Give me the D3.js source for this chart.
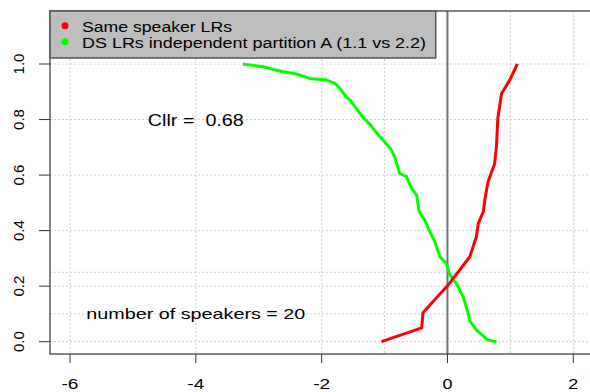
<!DOCTYPE html>
<html>
<head>
<meta charset="utf-8">
<script src="https://cdn.jsdelivr.net/npm/d3@7"></script>
<style>
  body { margin: 0; background: #fff; }
  text { font-family: "Liberation Sans", Arial, sans-serif; fill: #000; white-space: pre; }
</style>
</head>
<body>
<svg id="chart"></svg>
<script>
const width = 590;
const height = 392;

// same speaker LRs (log10) and cumulative proportion
const ssLR   = [-1.05, -0.41, -0.39, 0.01, 0.355, 0.46, 0.49, 0.57, 0.60, 0.645, 0.75, 0.78, 0.80, 0.86, 0.99, 1.11];
const ssProp = [0, 0.05, 0.104, 0.204, 0.306, 0.378, 0.426, 0.468, 0.52, 0.576, 0.642, 0.708, 0.804, 0.894, 0.942, 1.0];

// different speaker LRs, partition A
const dsLR   = [-3.25, -2.93, -2.67, -2.40, -2.19, -1.92, -1.79, -1.71, -1.61, -1.55, -1.45, -1.35, -1.22, -1.12, -1.0, -0.89, -0.84, -0.76, -0.65, -0.57, -0.49, -0.45, -0.36, -0.28, -0.20, -0.12, -0.02, 0.04, 0.14, 0.25, 0.33, 0.35, 0.46, 0.645, 0.78];
const dsProp = [1.0, 0.990, 0.975, 0.964, 0.948, 0.942, 0.930, 0.912, 0.882, 0.87, 0.840, 0.81, 0.78, 0.75, 0.72, 0.690, 0.666, 0.606, 0.594, 0.552, 0.528, 0.468, 0.438, 0.396, 0.360, 0.306, 0.282, 0.240, 0.210, 0.162, 0.102, 0.078, 0.042, 0.006, 0.0];

const xTicks = [-6, -4, -2, 0, 2];
const yTicks = [0, 0.2, 0.4, 0.6, 0.8, 1.0];
const vGrid = [-6, -4, -2, -1, 1, 2];
const hGrid = [0, 0.1, 0.2, 0.25, 0.4, 0.6, 0.8, 1.0];

const legendItems = [
  { label: "Same speaker LRs", color: "#ff0000", len: 150 },
  { label: "DS LRs independent partition A (1.1 vs 2.2)", color: "#00ff00", len: 344 }
];

const svg = d3.select("#chart").attr("width", width).attr("height", height);

const x = d3.scaleLinear().domain([-6, 2]).range([70, 573.3]);
const y = d3.scaleLinear().domain([0, 1]).range([341.7, 64]);
const box = { left: 50, right: x(2.32), top: 11, bottom: 354 };

// grid
svg.selectAll(".vgrid").data(vGrid).enter().append("line").attr("class", "vgrid")
  .attr("x1", d => x(d)).attr("x2", d => x(d)).attr("y1", box.top).attr("y2", box.bottom)
  .attr("stroke", "#cfcfcf").attr("stroke-dasharray", "2,2");
svg.selectAll(".hgrid").data(hGrid).enter().append("line").attr("class", "hgrid")
  .attr("x1", box.left).attr("x2", box.right).attr("y1", d => y(d)).attr("y2", d => y(d))
  .attr("stroke", "#cfcfcf").attr("stroke-dasharray", "2,2");

// zero line
svg.append("line").attr("x1", x(0)).attr("x2", x(0)).attr("y1", box.top).attr("y2", box.bottom)
  .attr("stroke", "#707070").attr("stroke-width", 2);

// curves
const line = d3.line().x(d => x(d[0])).y(d => y(d[1]));
svg.append("path").datum(dsLR.map((v, i) => [v, dsProp[i]])).attr("d", line)
  .attr("fill", "none").attr("stroke", "#00ff00").attr("stroke-width", 3).attr("stroke-linejoin", "round");
svg.append("path").datum(ssLR.map((v, i) => [v, ssProp[i]])).attr("d", line)
  .attr("fill", "none").attr("stroke", "#ff0000").attr("stroke-width", 3).attr("stroke-linejoin", "round");

// box
svg.append("rect").attr("x", box.left).attr("y", box.top)
  .attr("width", box.right - box.left).attr("height", box.bottom - box.top)
  .attr("fill", "none").attr("stroke", "#333").attr("stroke-width", 1.2);

// axes
const xAxis = svg.append("g").attr("transform", `translate(0,${box.bottom})`);
xAxis.selectAll("line").data(xTicks).enter().append("line")
  .attr("x1", d => x(d)).attr("x2", d => x(d)).attr("y1", 0).attr("y2", 9).attr("stroke", "#333");
xAxis.selectAll("text").data(xTicks).enter().append("text")
  .attr("x", d => x(d)).attr("y", 35).attr("text-anchor", "middle").style("font-size", "14px")
  .attr("textLength", d => d < 0 ? 17 : 10).attr("lengthAdjust", "spacingAndGlyphs")
  .text(d => d);

const yAxis = svg.append("g").attr("transform", `translate(${box.left},0)`);
yAxis.selectAll("line").data(yTicks).enter().append("line")
  .attr("x1", -11).attr("x2", 0).attr("y1", d => y(d)).attr("y2", d => y(d)).attr("stroke", "#333");
yAxis.selectAll("text").data(yTicks).enter().append("text")
  .attr("transform", d => `translate(-26,${y(d)}) rotate(-90)`)
  .attr("text-anchor", "middle").style("font-size", "15px")
  .text(d => d.toFixed(1));

// annotations
svg.append("text").attr("x", x(-4)).attr("y", y(0.8) + 6.5).attr("text-anchor", "middle")
  .style("font-size", "16px").attr("textLength", 96).attr("lengthAdjust", "spacingAndGlyphs")
  .text("Cllr =  0.68");
svg.append("text").attr("x", x(-4)).attr("y", y(0.1) + 5.5).attr("text-anchor", "middle")
  .style("font-size", "15px").attr("textLength", 219).attr("lengthAdjust", "spacingAndGlyphs")
  .text("number of speakers = 20");

// legend
const legend = svg.append("g");
legend.append("rect").attr("x", box.left).attr("y", box.top).attr("width", 385.7).attr("height", 47)
  .attr("fill", "#bebebe").attr("stroke", "#555").attr("stroke-width", 1.5);
legend.selectAll("circle").data(legendItems).enter().append("circle")
  .attr("cx", 65).attr("cy", (d, i) => 25.7 + i * 16).attr("r", 3.5).attr("fill", d => d.color);
legend.selectAll("text").data(legendItems).enter().append("text")
  .attr("x", 82).attr("y", (d, i) => 31.5 + i * 16).style("font-size", "14px")
  .attr("textLength", d => d.len).attr("lengthAdjust", "spacingAndGlyphs")
  .text(d => d.label);
</script>
</body>
</html>
